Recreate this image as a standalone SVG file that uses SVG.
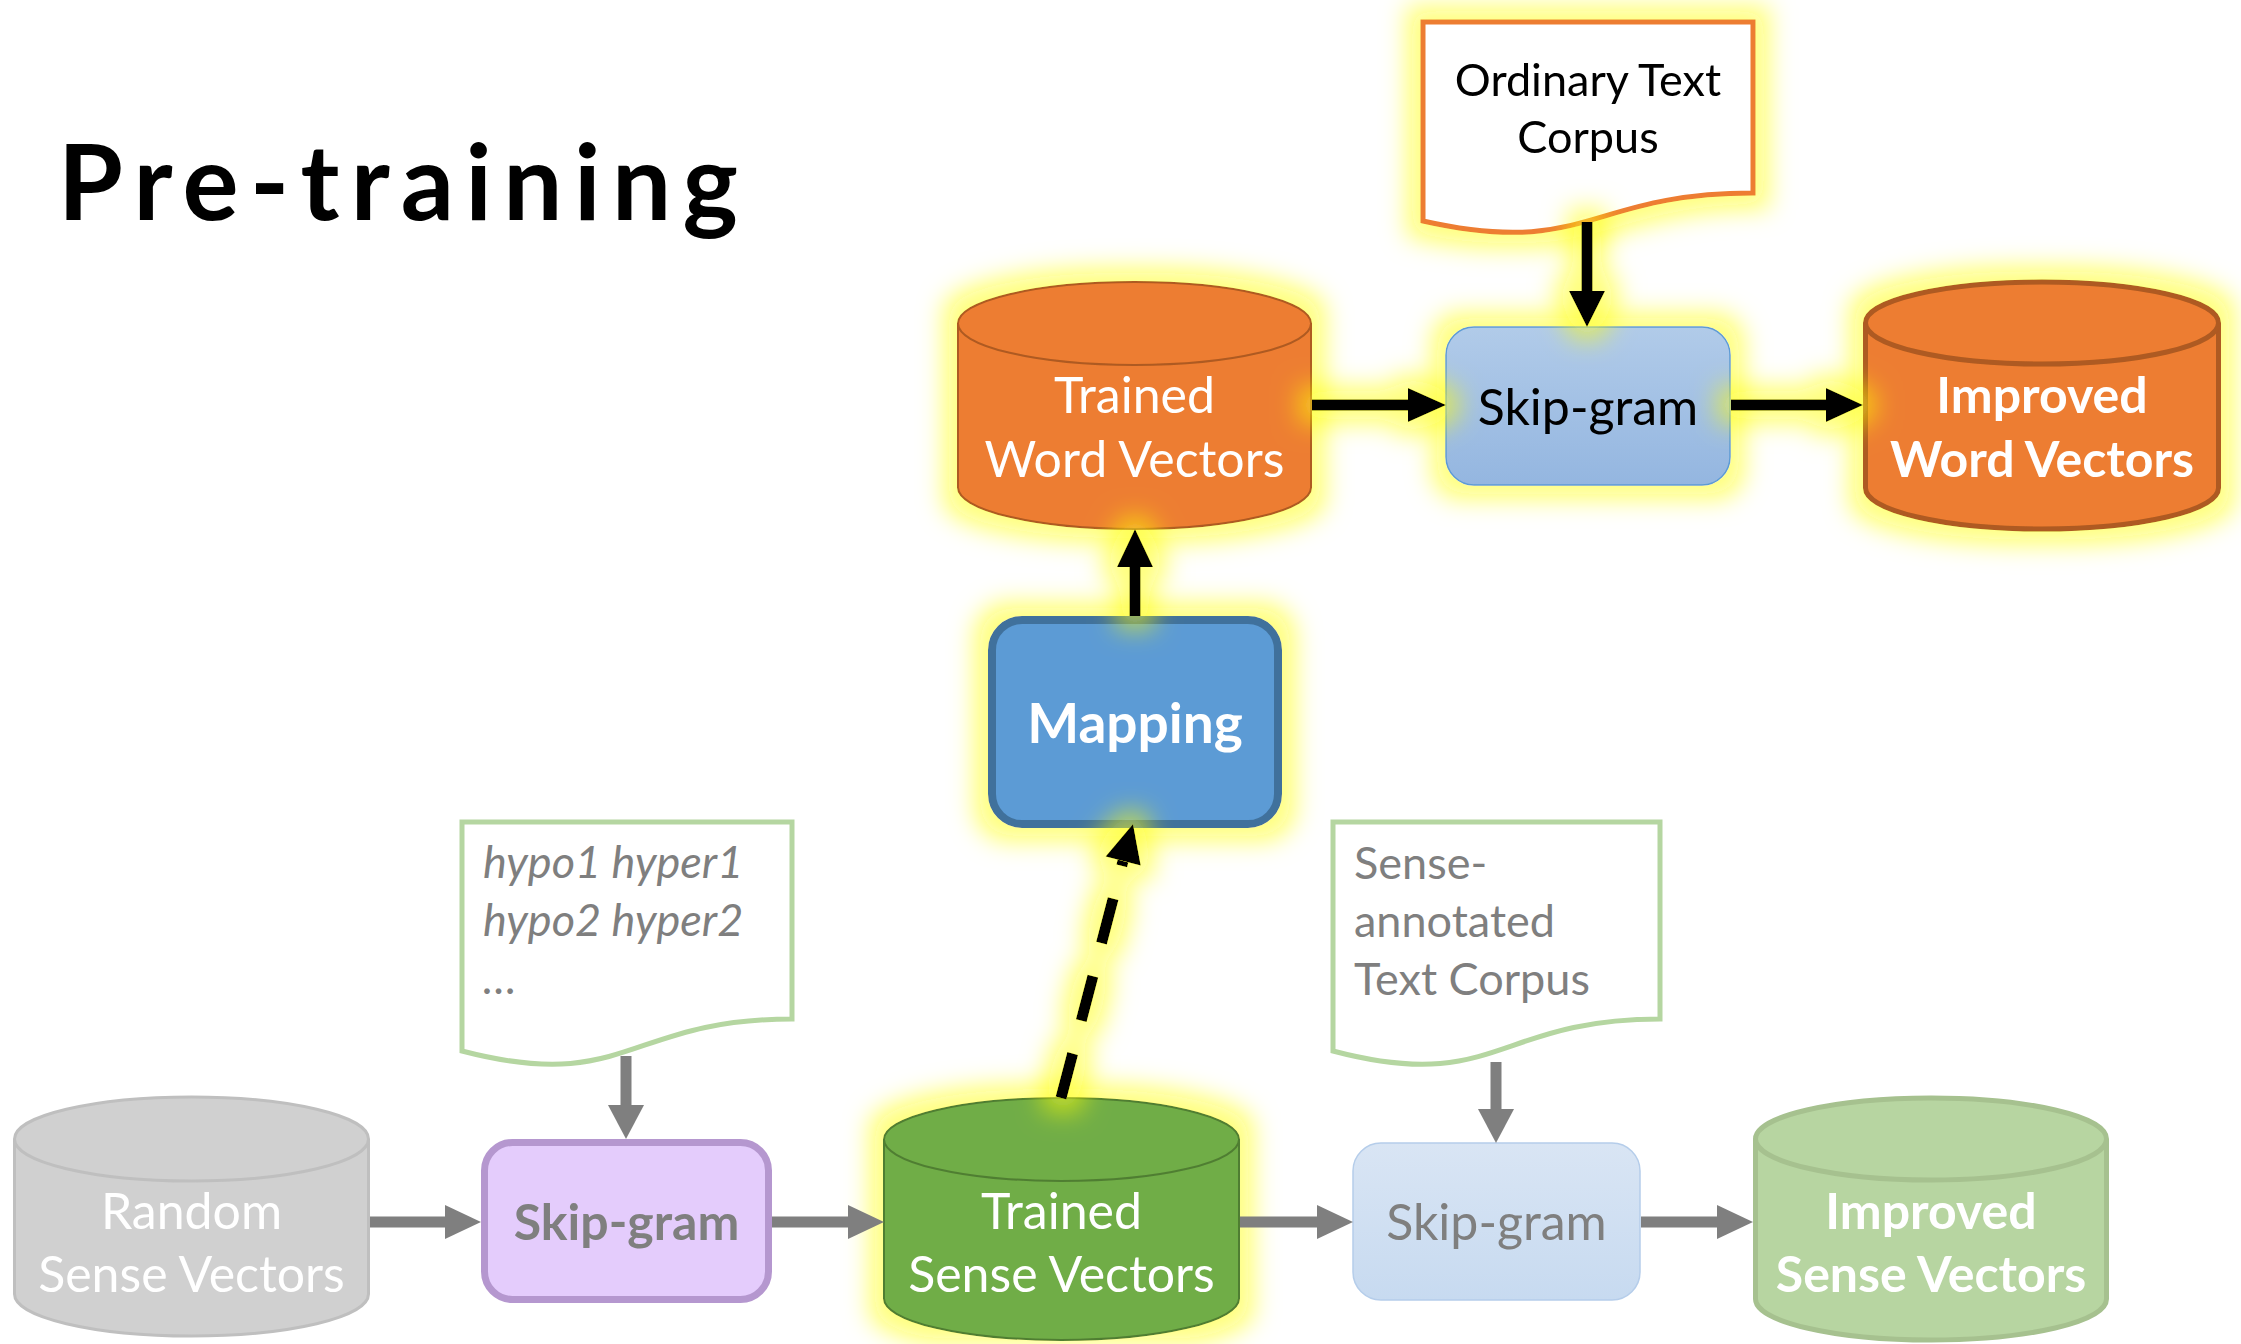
<svg xmlns="http://www.w3.org/2000/svg" width="2241" height="1344" viewBox="0 0 2241 1344">
<defs>
  <filter id="glow" filterUnits="userSpaceOnUse" x="0" y="0" width="2241" height="1344">
    <feMorphology in="SourceAlpha" operator="dilate" radius="14" result="d"/>
    <feGaussianBlur in="d" stdDeviation="12" result="b"/>
    <feFlood flood-color="#ffff10" flood-opacity="0.55"/>
    <feComposite in2="b" operator="in" result="g"/>
    <feMerge><feMergeNode in="g"/><feMergeNode in="SourceGraphic"/></feMerge>
  </filter>
  <linearGradient id="gBlue" x1="0" y1="0" x2="0" y2="1">
    <stop offset="0" stop-color="#b1cbe9"/><stop offset="1" stop-color="#94b6e0"/>
  </linearGradient>
  <linearGradient id="gBlueLight" x1="0" y1="0" x2="0" y2="1">
    <stop offset="0" stop-color="#d9e5f4"/><stop offset="1" stop-color="#c7daf0"/>
  </linearGradient>
  <style>
    text{font-family:Lato,"Open Sans","Liberation Sans",sans-serif}
    .c{text-anchor:middle}
    .w{fill:#ffffff}
    .k{fill:#000000}
    .g{fill:#7f7f7f}
    .b{font-weight:bold}
    .s50{font-size:50px}
    .s45{font-size:45px}
    .sh{stroke-width:11;fill:none}
    .blk{stroke:#000000}
    .gry{stroke:#7f7f7f}
    .hb{fill:#000000}
    .hg{fill:#7f7f7f}
  </style>
</defs>
<rect width="2241" height="1344" fill="#ffffff"/>

<text id="title" x="58" y="220" font-size="105" font-weight="bold" textLength="680" lengthAdjust="spacing" class="k">Pre-training</text>

<!-- top nodes with glow -->
<g id="ordinary-corpus" filter="url(#glow)">
  <path d="M1423,22 H1753 V193 C1588,193 1588,258 1423,221 Z" fill="#ffffff" stroke="#ed7d31" stroke-width="5"/>
  <text x="1588" y="96" class="c k s45">Ordinary Text</text>
  <text x="1588" y="153" class="c k s45">Corpus</text>
</g>

<g id="trained-word-vectors" filter="url(#glow)">
  <path d="M958,323.5 A176.5,41.5 0 0 1 1311,323.5 V487.5 A176.5,41.5 0 0 1 958,487.5 Z" fill="#ed7d31" stroke="#ae5a21" stroke-width="2"/>
  <path d="M958,323.5 A176.5,41.5 0 0 0 1311,323.5" fill="none" stroke="#ae5a21" stroke-width="2"/>
  <text x="1134.5" y="413" class="c w s50">Trained</text>
  <text x="1134.5" y="477" class="c w s50">Word Vectors</text>
</g>

<g id="skipgram-top" filter="url(#glow)">
  <rect x="1446" y="327" width="284" height="158" rx="28" fill="url(#gBlue)" stroke="#5b9bd5" stroke-width="1.5"/>
  <text x="1588" y="425" class="c k s50">Skip-gram</text>
</g>

<g id="improved-word-vectors" filter="url(#glow)">
  <path d="M1865.5,323 A176.5,41 0 0 1 2218.5,323 V488 A176.5,41 0 0 1 1865.5,488 Z" fill="#ed7d31" stroke="#ae5a21" stroke-width="5"/>
  <path d="M1865.5,323 A176.5,41 0 0 0 2218.5,323" fill="none" stroke="#ae5a21" stroke-width="5"/>
  <text x="2042" y="413" class="c w s50 b">Improved</text>
  <text x="2042" y="477" class="c w s50 b">Word Vectors</text>
</g>

<g id="mapping" filter="url(#glow)">
  <rect x="992" y="620" width="286" height="204" rx="30" fill="#5b9bd5" stroke="#41719c" stroke-width="8"/>
  <text x="1135" y="743" class="c w b" font-size="55">Mapping</text>
</g>

<g id="trained-sense-vectors" filter="url(#glow)">
  <path d="M884,1139.5 A177.5,41.5 0 0 1 1239,1139.5 V1298.5 A177.5,41.5 0 0 1 884,1298.5 Z" fill="#70ad47" stroke="#507e32" stroke-width="2"/>
  <path d="M884,1139.5 A177.5,41.5 0 0 0 1239,1139.5" fill="none" stroke="#507e32" stroke-width="2"/>
  <text x="1061.5" y="1229" class="c w s50">Trained</text>
  <text x="1061.5" y="1292" class="c w s50">Sense Vectors</text>
</g>

<!-- bottom nodes without glow -->
<g id="random-sense-vectors">
  <path d="M14.5,1139 A177,42 0 0 1 368.5,1139 V1294 A177,42 0 0 1 14.5,1294 Z" fill="#d0d0d0" stroke="#bfbfbf" stroke-width="3"/>
  <path d="M14.5,1139 A177,42 0 0 0 368.5,1139" fill="none" stroke="#bfbfbf" stroke-width="3"/>
  <text x="191.5" y="1229" class="c w s50">Random</text>
  <text x="191.5" y="1292" class="c w s50">Sense Vectors</text>
</g>

<g id="hypo-corpus">
  <path d="M462,822 H792 V1019 C627,1019 627,1094 462,1051 Z" fill="#ffffff" stroke="#b5d6a1" stroke-width="5"/>
  <text x="483" y="878" class="g s45" font-style="italic">hypo1 hyper1</text>
  <text x="483" y="936" class="g s45" font-style="italic">hypo2 hyper2</text>
  <text x="483" y="994" class="g s45" font-style="italic" letter-spacing="4">…</text>
</g>

<g id="skipgram-purple">
  <rect x="484.5" y="1142.5" width="284" height="157" rx="28" fill="#e4ccfc" stroke="#b597cf" stroke-width="7"/>
  <text x="626.5" y="1240" class="c g s50 b">Skip-gram</text>
</g>

<g id="sense-corpus">
  <path d="M1333,822 H1660 V1019 C1496,1019 1496,1094 1333,1051 Z" fill="#ffffff" stroke="#b5d6a1" stroke-width="5"/>
  <text x="1354" y="879" class="g s45">Sense-</text>
  <text x="1354" y="937" class="g s45">annotated</text>
  <text x="1354" y="995" class="g s45">Text Corpus</text>
</g>

<g id="skipgram-light">
  <rect x="1353" y="1143" width="287" height="157" rx="28" fill="url(#gBlueLight)" stroke="#b5cdea" stroke-width="1.5"/>
  <text x="1496.5" y="1240" class="c g s50">Skip-gram</text>
</g>

<g id="improved-sense-vectors">
  <path d="M1755.5,1139 A175.5,41 0 0 1 2106.5,1139 V1299 A175.5,41 0 0 1 1755.5,1299 Z" fill="#b7d5a1" stroke="#a6c18f" stroke-width="5"/>
  <path d="M1755.5,1139 A175.5,41 0 0 0 2106.5,1139" fill="none" stroke="#a6c18f" stroke-width="5"/>
  <text x="1931" y="1229" class="c w s50 b">Improved</text>
  <text x="1931" y="1292" class="c w s50 b">Sense Vectors</text>
</g>

<!-- connectors -->
<g id="connectors">
  <g filter="url(#glow)">
    <line x1="1312" y1="405" x2="1410" y2="405" class="sh blk"/>
    <polygon points="1408,388 1446,405 1408,422" class="hb"/>
  </g>
  <g filter="url(#glow)">
    <line x1="1731" y1="405" x2="1828" y2="405" class="sh blk"/>
    <polygon points="1826,388 1863,405 1826,422" class="hb"/>
  </g>
  <g filter="url(#glow)">
    <line x1="1587" y1="222" x2="1587" y2="293" class="sh blk"/>
    <polygon points="1569,291 1587,327 1605,291" class="hb"/>
  </g>
  <g filter="url(#glow)">
    <line x1="1135" y1="616" x2="1135" y2="565" class="sh blk"/>
    <polygon points="1117,567 1135,529 1153,567" class="hb"/>
  </g>
  <g filter="url(#glow)">
    <line x1="1061" y1="1098" x2="1123" y2="861" class="sh blk" stroke-dasharray="46 34"/>
    <polygon points="1105.6,856.4 1133,824 1140.7,865.6" class="hb"/>
  </g>
  <line x1="370" y1="1222" x2="447" y2="1222" class="sh gry"/>
  <polygon points="445,1205 481,1222 445,1239" class="hg"/>
  <line x1="772" y1="1222" x2="850" y2="1222" class="sh gry"/>
  <polygon points="848,1205 884,1222 848,1239" class="hg"/>
  <line x1="1240" y1="1222" x2="1319" y2="1222" class="sh gry"/>
  <polygon points="1317,1205 1353,1222 1317,1239" class="hg"/>
  <line x1="1641" y1="1222" x2="1719" y2="1222" class="sh gry"/>
  <polygon points="1717,1205 1753,1222 1717,1239" class="hg"/>
  <line x1="626" y1="1056" x2="626" y2="1107" class="sh gry"/>
  <polygon points="608,1105 626,1139 644,1105" class="hg"/>
  <line x1="1496" y1="1062" x2="1496" y2="1111" class="sh gry"/>
  <polygon points="1478,1109 1496,1143 1514,1109" class="hg"/>
</g>
</svg>
